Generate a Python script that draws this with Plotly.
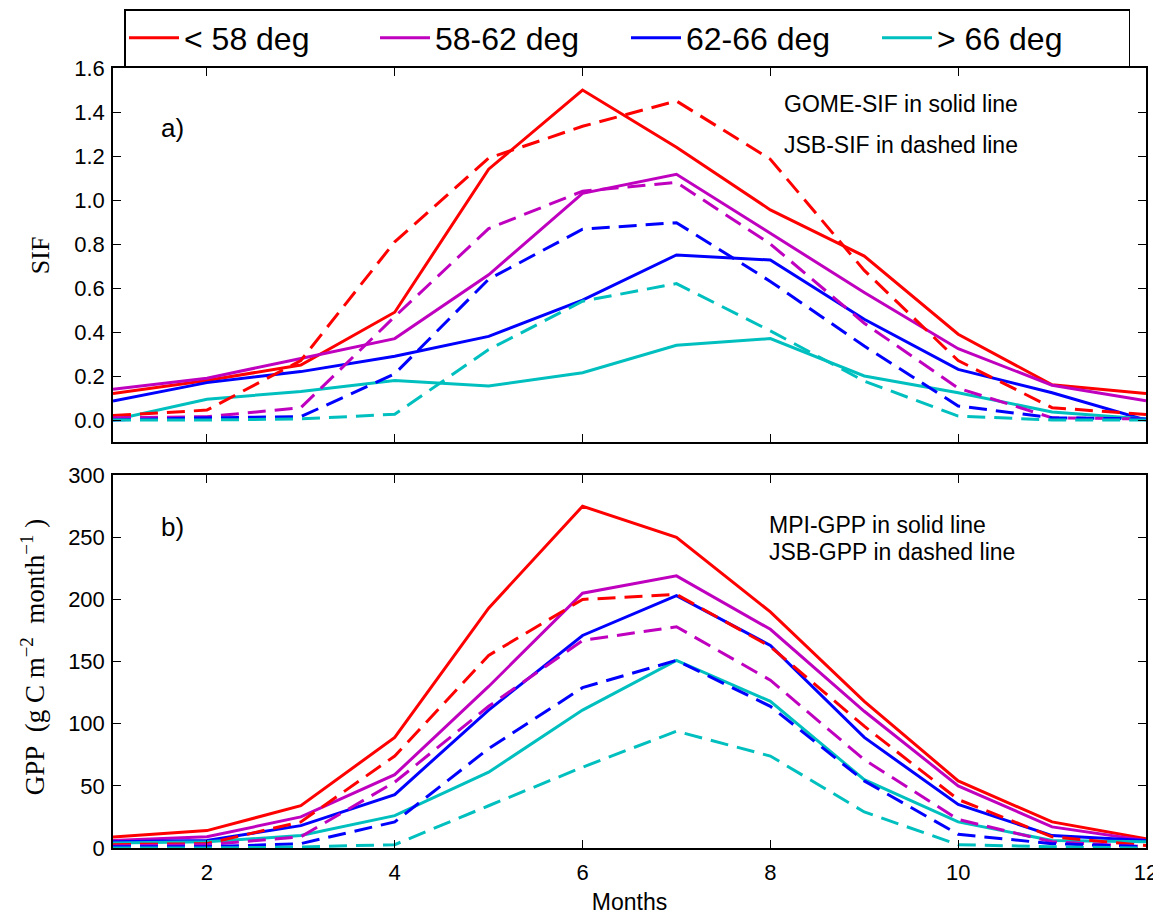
import plotly.graph_objects as go
from plotly.subplots import make_subplots

months = list(range(1, 13))
bands = ["< 58 deg", "58-62 deg", "62-66 deg", "> 66 deg"]
colors = ["#ff0000", "#bf00bf", "#0000ff", "#00bfbf"]

# SIF (top panel)
gome_sif = {
    "< 58 deg": [0.12, 0.18, 0.25, 0.49, 1.14, 1.50, 1.24, 0.955, 0.745, 0.39, 0.16, 0.12],
    "58-62 deg": [0.14, 0.19, 0.28, 0.37, 0.66, 1.03, 1.117, 0.85, 0.58, 0.324, 0.158, 0.088],
    "62-66 deg": [0.086, 0.17, 0.22, 0.29, 0.38, 0.545, 0.75, 0.727, 0.458, 0.23, 0.124, 0.0],
    "> 66 deg": [0.0, 0.094, 0.13, 0.18, 0.155, 0.215, 0.34, 0.37, 0.20, 0.124, 0.036, 0.005],
}
jsb_sif = {
    "< 58 deg": [0.02, 0.045, 0.27, 0.81, 1.19, 1.335, 1.45, 1.185, 0.68, 0.27, 0.056, 0.025],
    "58-62 deg": [0.01, 0.015, 0.056, 0.47, 0.87, 1.04, 1.08, 0.80, 0.44, 0.145, 0.01, 0.005],
    "62-66 deg": [0.0, 0.01, 0.015, 0.21, 0.64, 0.867, 0.897, 0.63, 0.336, 0.064, 0.01, 0.005],
    "> 66 deg": [0.0, 0.0, 0.005, 0.026, 0.32, 0.54, 0.62, 0.405, 0.177, 0.018, 0.0, 0.0],
}
# GPP (bottom panel)
mpi_gpp = {
    "< 58 deg": [8.8, 14, 34, 89, 193, 275, 250, 190, 118, 54, 21, 7.5],
    "58-62 deg": [6, 9, 25, 59, 130, 205, 219, 176, 110, 50, 17, 6],
    "62-66 deg": [5, 6, 18, 43, 111, 171, 203, 163, 89, 35, 10, 6],
    "> 66 deg": [4, 5, 10, 26, 61, 111, 151, 118, 55, 21, 6, 5],
}
jsb_gpp = {
    "< 58 deg": [2.7, 3.5, 21, 74, 155, 200, 204, 162, 98, 39, 9, 2],
    "58-62 deg": [1.6, 2.7, 9, 53, 114, 167, 178, 135, 71, 23, 5, 1],
    "62-66 deg": [1, 1, 3.5, 21, 80, 129, 151, 114, 54, 11, 3.5, 1],
    "> 66 deg": [0, 0, 0.8, 2.7, 34, 65, 94, 74, 29, 2.7, 1, 0],
}

DASH = "18px,9px"
LW = 3

fig = make_subplots(rows=2, cols=1)

for b, c in zip(bands, colors):
    fig.add_trace(go.Scatter(x=months, y=gome_sif[b], mode="lines", name=b,
                             line=dict(color=c, width=LW), showlegend=True,
                             legendgroup=b), row=1, col=1)
for b, c in zip(bands, colors):
    fig.add_trace(go.Scatter(x=months, y=jsb_sif[b], mode="lines", name=b,
                             line=dict(color=c, width=LW, dash=DASH), showlegend=False,
                             legendgroup=b), row=1, col=1)
for b, c in zip(bands, colors):
    fig.add_trace(go.Scatter(x=months, y=mpi_gpp[b], mode="lines", name=b,
                             line=dict(color=c, width=LW), showlegend=False,
                             legendgroup=b), row=2, col=1)
for b, c in zip(bands, colors):
    fig.add_trace(go.Scatter(x=months, y=jsb_gpp[b], mode="lines", name=b,
                             line=dict(color=c, width=LW, dash=DASH), showlegend=False,
                             legendgroup=b), row=2, col=1)

W, H = 1153, 914
TICKFONT = dict(family="Liberation Sans, Arial, sans-serif", size=22, color="black")
axis_common = dict(showline=True, linecolor="black", linewidth=1.5, mirror="ticks",
                   ticks="inside", ticklen=8, tickwidth=1, tickcolor="black",
                   showgrid=False, zeroline=False, tickfont=TICKFONT)

fig.update_layout(
    width=W, height=H,
    margin=dict(l=105, r=15, t=60, b=74, autoexpand=False),
    paper_bgcolor="white", plot_bgcolor="white",
    font=dict(family="Liberation Sans, Arial, sans-serif", color="black"),
    xaxis=dict(domain=[0, 1], range=[1, 12], tickvals=[2, 4, 6, 8, 10, 12],
               showticklabels=False, matches="x2", **axis_common),
    xaxis2=dict(domain=[0, 1], range=[1, 12], tickvals=[2, 4, 6, 8, 10, 12],
                ticklabelstandoff=4,
                title=dict(text="Months", font=dict(size=23, color="black"), standoff=10),
                **axis_common),
    yaxis=dict(domain=[0.5205, 1], range=[-0.1, 1.6], tickvals=[0, 0.2, 0.4, 0.6, 0.8, 1.0, 1.2, 1.4, 1.6],
               tickformat=".1f", ticklabelstandoff=2, **axis_common),
    yaxis2=dict(domain=[0, 0.478], range=[0, 300], tickvals=[0, 50, 100, 150, 200, 250, 300],
                ticklabelstandoff=2, **axis_common),
    legend=dict(orientation="h", x=116 / W, xanchor="left", y=1 - 1 / H, yanchor="top",
                xref="container", yref="container",
                bordercolor="black", borderwidth=1.5, bgcolor="white",
                font=dict(size=32, color="black", family="Liberation Sans, Arial, sans-serif"),
                entrywidth=186, entrywidthmode="pixels", itemwidth=50, valign="middle"),
)

ann_font = dict(family="Liberation Sans, Arial, sans-serif", size=23, color="black")
annotations = [
    dict(text="a)", x=1.63, y=1.327, xref="x", yref="y", showarrow=False,
         font=dict(family="Liberation Sans, Arial, sans-serif", size=26, color="black")),
    dict(text="GOME-SIF in solid line", x=8.12, y=1.436, xref="x", yref="y", xanchor="left",
         showarrow=False, font=ann_font),
    dict(text="JSB-SIF in dashed line", x=8.12, y=1.25, xref="x", yref="y", xanchor="left",
         showarrow=False, font=ann_font),
    dict(text="b)", x=1.63, y=258, xref="x2", yref="y2", showarrow=False,
         font=dict(family="Liberation Sans, Arial, sans-serif", size=26, color="black")),
    dict(text="MPI-GPP in solid line", x=7.96, y=260, xref="x2", yref="y2", xanchor="left",
         showarrow=False, font=ann_font),
    dict(text="JSB-GPP in dashed line", x=7.96, y=238, xref="x2", yref="y2", xanchor="left",
         showarrow=False, font=ann_font),
    dict(text="SIF", x=-0.0707, y=0.76, xref="paper", yref="paper", textangle=-90,
         xanchor="center", yanchor="middle", showarrow=False,
         font=dict(family="Liberation Serif, DejaVu Serif, serif", size=26, color="black")),
    dict(text="GPP&nbsp;&nbsp;(g&nbsp;C&nbsp;m<sup>\u22122</sup>&nbsp;&nbsp;month<sup>\u22121</sup>&nbsp;)",
         x=-0.078, y=0.245,
         xref="paper", yref="paper", textangle=-90,
         xanchor="center", yanchor="middle", showarrow=False,
         font=dict(family="Liberation Serif, DejaVu Serif, serif", size=27, color="black")),
]
fig.update_layout(annotations=annotations)

fig.write_html("out.html")
